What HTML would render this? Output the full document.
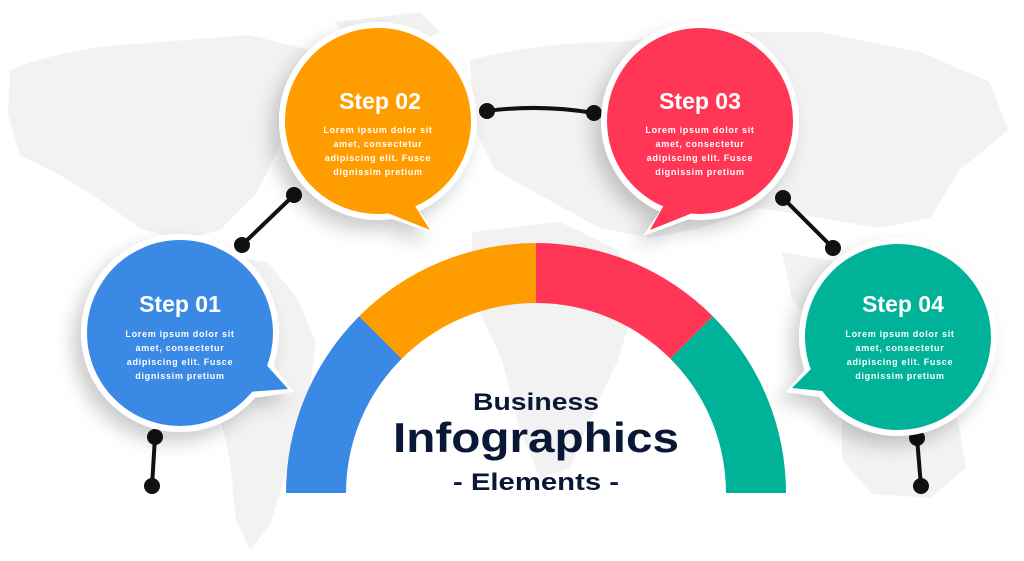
<!DOCTYPE html>
<html><head><meta charset="utf-8"><style>
html,body{margin:0;padding:0;background:#fff;}
svg{display:block}
text{font-family:"Liberation Sans",sans-serif;font-weight:bold}
</style></head><body>
<svg width="1024" height="561" viewBox="0 0 1024 561" xmlns="http://www.w3.org/2000/svg">
<defs>
<filter id="sh" x="-30%" y="-30%" width="160%" height="160%">
<feDropShadow dx="-8" dy="10" stdDeviation="9" flood-color="#000" flood-opacity="0.2"/>
</filter>
</defs>
<g fill="#f2f2f2">
<path d="M10 70 Q60 50 120 45 L250 35 L330 55 L300 95 Q285 140 255 195 L220 230 L180 240 L140 228 L100 200 L60 175 L20 155 L8 115 Z"/>
<path d="M335 22 L420 12 L440 32 L400 50 L352 46 Z"/>
<path d="M215 255 L268 262 L298 300 L316 342 L308 400 L290 460 L270 525 L250 550 L236 520 L230 460 L216 400 L206 330 Z"/>
<path d="M470 60 Q540 42 620 42 L700 32 L820 32 L920 52 L990 82 L1008 130 L960 170 L930 218 L880 228 L820 218 L760 208 L700 228 L650 238 L600 228 L545 198 L495 170 L475 130 Z"/>
<path d="M472 232 L560 222 L618 250 L636 300 L618 360 L590 420 L570 468 L540 478 L520 430 L502 360 L474 300 Z"/>
<path d="M842 402 L920 392 L958 420 L966 468 L930 498 L872 494 L842 460 Z"/>
<path d="M782 252 L838 262 L856 300 L820 328 L792 300 Z"/>
</g>
<g>
<path d="M286 493 A250 250 0 0 1 359.2 316.2 L401.7 358.7 A190 190 0 0 0 346 493 Z" fill="#3a89e4"/>
<path d="M359.2 316.2 A250 250 0 0 1 536 243 L536 303 A190 190 0 0 0 401.7 358.7 Z" fill="#ff9d00"/>
<path d="M536 243 A250 250 0 0 1 712.8 316.2 L670.3 358.7 A190 190 0 0 0 536 303 Z" fill="#ff3656"/>
<path d="M712.8 316.2 A250 250 0 0 1 786 493 L726 493 A190 190 0 0 0 670.3 358.7 Z" fill="#00b398"/>
</g>
<text x="536" y="410" text-anchor="middle" font-size="24" fill="#0b1736" textLength="126" lengthAdjust="spacingAndGlyphs">Business</text>
<text x="536" y="452" text-anchor="middle" font-size="42" fill="#0b1736" textLength="286" lengthAdjust="spacingAndGlyphs">Infographics</text>
<text x="536" y="490" text-anchor="middle" font-size="24" fill="#0b1736" textLength="166" lengthAdjust="spacingAndGlyphs">- Elements -</text>
<g stroke="#111" stroke-width="4" fill="#111" stroke-linecap="round">
<line x1="242" y1="245" x2="294" y2="195"/><circle cx="242" cy="245" r="6"/><circle cx="294" cy="195" r="6"/>
<line x1="155" y1="437" x2="152" y2="486"/><circle cx="155" cy="437" r="6"/><circle cx="152" cy="486" r="6"/>
<path d="M487 111 Q540 104 594 113" fill="none"/><circle cx="487" cy="111" r="6"/><circle cx="594" cy="113" r="6"/>
<line x1="783" y1="198" x2="833" y2="248"/><circle cx="783" cy="198" r="6"/><circle cx="833" cy="248" r="6"/>
<line x1="917" y1="438" x2="921" y2="486"/><circle cx="917" cy="438" r="6"/><circle cx="921" cy="486" r="6"/>
</g>
<g filter="url(#sh)">
<g fill="#fff">
<circle cx="180" cy="333" r="99"/><path d="M265 355 L294 392 L240 400 Z"/>
<circle cx="378" cy="121" r="99"/><path d="M410 200 L437 234 L380 215 Z"/>
<circle cx="700" cy="121" r="99"/><path d="M668 200 L643 236 L700 215 Z"/>
<circle cx="898" cy="337" r="99"/><path d="M815 358 L786 392 L840 400 Z"/>
</g>
</g>
<g>
<circle cx="180" cy="333" r="93" fill="#3a89e4"/><path d="M262 360 L288 389 L248 392 Z" fill="#3a89e4"/>
<circle cx="378" cy="121" r="93" fill="#ff9d00"/><path d="M410 198 L430 230 L385 212 Z" fill="#ff9d00"/>
<circle cx="700" cy="121" r="93" fill="#ff3656"/><path d="M668 198 L650 230 L695 212 Z" fill="#ff3656"/>
<circle cx="898" cy="337" r="93" fill="#00b398"/><path d="M818 362 L792 388 L832 392 Z" fill="#00b398"/>
</g>
<g fill="#fff" text-anchor="middle">
<text x="180" y="312" font-size="23">Step 01</text>
<g font-size="9" letter-spacing="0.7">
<text x="180" y="337">Lorem ipsum dolor sit</text><text x="180" y="351">amet, consectetur</text><text x="180" y="365">adipiscing elit. Fusce</text><text x="180" y="379">dignissim pretium</text>
</g>
<text x="380" y="109" font-size="23">Step 02</text>
<g font-size="9" letter-spacing="0.7">
<text x="378" y="133">Lorem ipsum dolor sit</text><text x="378" y="147">amet, consectetur</text><text x="378" y="161">adipiscing elit. Fusce</text><text x="378" y="175">dignissim pretium</text>
</g>
<text x="700" y="109" font-size="23">Step 03</text>
<g font-size="9" letter-spacing="0.7">
<text x="700" y="133">Lorem ipsum dolor sit</text><text x="700" y="147">amet, consectetur</text><text x="700" y="161">adipiscing elit. Fusce</text><text x="700" y="175">dignissim pretium</text>
</g>
<text x="903" y="312" font-size="23">Step 04</text>
<g font-size="9" letter-spacing="0.7">
<text x="900" y="337">Lorem ipsum dolor sit</text><text x="900" y="351">amet, consectetur</text><text x="900" y="365">adipiscing elit. Fusce</text><text x="900" y="379">dignissim pretium</text>
</g>
</g>
</svg>
</body></html>
